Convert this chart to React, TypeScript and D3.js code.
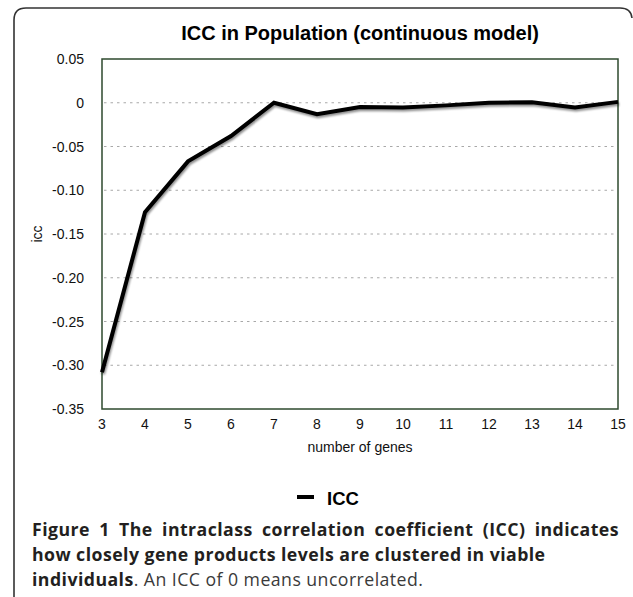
import React, { useEffect, useRef, useState } from "react";
import * as d3 from "d3";

const genes = [3, 4, 5, 6, 7, 8, 9, 10, 11, 12, 13, 14, 15];
const iccValues = [-0.308, -0.125, -0.067, -0.038, 0.0, -0.013, -0.005, -0.0055, -0.003, 0.0, 0.0005, -0.0055, 0.001];
const yTicks = [0.05, 0, -0.05, -0.1, -0.15, -0.2, -0.25, -0.3, -0.35];
const yTickLabels = ["0.05", "0", "-0.05", "-0.10", "-0.15", "-0.20", "-0.25", "-0.30", "-0.35"];
const gridTicks = [0, -0.05, -0.1, -0.15, -0.2, -0.25, -0.3];

const chartTitle = "ICC in Population (continuous model)";
const xTitle = "number of genes";
const yTitle = "icc";
const seriesName = "ICC";
const captionLine1 = "Figure 1 The intraclass correlation coefficient (ICC) indicates";
const captionLine2 = "how closely gene products levels are clustered in viable";
const captionLine3Bold = "individuals";
const captionLine3 = ". An ICC of 0 means uncorrelated.";

const W = 633;
const H = 597;
const M = { left: 102, right: 618, top: 59, bottom: 409 };
const CAP_X = 32;
const CAP_RIGHT = 619;

export default function App() {
  const line1Ref = useRef<SVGTextElement>(null);
  const [wordSpacing, setWordSpacing] = useState(0);

  useEffect(() => {
    const el = line1Ref.current;
    if (!el) return;
    const w = el.getComputedTextLength();
    const spaces = captionLine1.split(" ").length - 1;
    const extra = (CAP_RIGHT - CAP_X - w) / spaces;
    if (Number.isFinite(extra)) setWordSpacing(extra);
  }, []);

  const x = d3.scaleLinear().domain([3, 15]).range([M.left, M.right]);
  const y = d3.scaleLinear().domain([-0.35, 0.05]).range([M.bottom, M.top]);
  const line = d3
    .line<number>()
    .x((_, i) => x(genes[i]))
    .y((d) => y(d));
  const path = line(iccValues) || "";
  const chartFont = "'Liberation Sans', Arial, Helvetica, sans-serif";
  const capFont = "'Open Sans', 'Noto Sans', sans-serif";
  const capSize = 17.7;
  const capLS = 0.45;

  return (
    <svg
      width={W}
      height={H}
      viewBox={`0 0 ${W} ${H}`}
      style={{ position: "absolute", left: 0, top: 0, background: "#fff" }}
    >
      <defs>
        <filter id="shadow" x="-10%" y="-10%" width="120%" height="130%">
          <feGaussianBlur in="SourceAlpha" stdDeviation="1.2" />
          <feOffset dx="1" dy="1.5" result="b" />
          <feComponentTransfer>
            <feFuncA type="linear" slope="0.45" />
          </feComponentTransfer>
          <feMerge>
            <feMergeNode />
            <feMergeNode in="SourceGraphic" />
          </feMerge>
        </filter>
      </defs>
      <rect x={0} y={0} width={W} height={H} fill="#fff" />
      {/* outer frame */}
      <path
        d="M14,640 L14,20 Q14,8 26,8 L620,8 Q631,8 632,18"
        fill="none"
        stroke="#333"
        strokeWidth={1.6}
      />
      {/* title */}
      <text
        x={(M.left + M.right) / 2}
        y={40}
        textAnchor="middle"
        fontFamily={chartFont}
        fontWeight="bold"
        fontSize={20}
        fill="#000"
      >
        {chartTitle}
      </text>
      {/* grid */}
      {gridTicks.map((t) => (
        <line
          key={t}
          x1={M.left + 2}
          x2={M.right - 2}
          y1={y(t)}
          y2={y(t)}
          stroke="#a8a8a8"
          strokeWidth={1}
          strokeDasharray="2.5,4"
        />
      ))}
      {/* plot frame */}
      <rect
        x={M.left}
        y={M.top}
        width={M.right - M.left}
        height={M.bottom - M.top}
        fill="none"
        stroke="#2e4a2e"
        strokeWidth={1.5}
      />
      {/* y tick labels */}
      {yTicks.map((t, i) => (
        <text
          key={t}
          x={84}
          y={y(t)}
          dy="0.36em"
          textAnchor="end"
          fontFamily={chartFont}
          fontSize={14}
          fill="#111"
        >
          {yTickLabels[i]}
        </text>
      ))}
      {/* x tick labels */}
      {genes.map((g) => (
        <text
          key={g}
          x={x(g)}
          y={429}
          textAnchor="middle"
          fontFamily={chartFont}
          fontSize={14}
          fill="#111"
        >
          {g}
        </text>
      ))}
      {/* axis titles */}
      <text
        x={(M.left + M.right) / 2}
        y={452}
        textAnchor="middle"
        fontFamily={chartFont}
        fontSize={14}
        fill="#111"
      >
        {xTitle}
      </text>
      <text
        transform={`translate(42,${(M.top + M.bottom) / 2}) rotate(-90)`}
        textAnchor="middle"
        fontFamily={chartFont}
        fontSize={14}
        fill="#111"
      >
        {yTitle}
      </text>
      {/* series line */}
      <path
        d={path}
        fill="none"
        stroke="#000"
        strokeWidth={4}
        strokeLinejoin="miter"
        filter="url(#shadow)"
      />
      {/* legend */}
      <line x1={297} x2={314} y1={497} y2={497} stroke="#000" strokeWidth={4} />
      <text x={327} y={505} fontFamily={chartFont} fontWeight="bold" fontSize={18.5} fill="#000">
        {seriesName}
      </text>
      {/* caption */}
      <text
        ref={line1Ref}
        x={CAP_X}
        y={536}
        fontFamily={capFont}
        fontWeight={700}
        fontSize={capSize}
        letterSpacing={capLS}
        wordSpacing={wordSpacing}
        fill="#231f20"
      >
        {captionLine1}
      </text>
      <text
        x={CAP_X}
        y={561}
        fontFamily={capFont}
        fontWeight={700}
        fontSize={capSize}
        letterSpacing={capLS}
        fill="#231f20"
      >
        {captionLine2}
      </text>
      <text
        x={CAP_X}
        y={586}
        fontFamily={capFont}
        fontSize={capSize}
        letterSpacing={capLS}
        fill="#3a3a3a"
      >
        <tspan fontWeight={700} fill="#231f20">
          {captionLine3Bold}
        </tspan>
        <tspan>{captionLine3}</tspan>
      </text>
    </svg>
  );
}
